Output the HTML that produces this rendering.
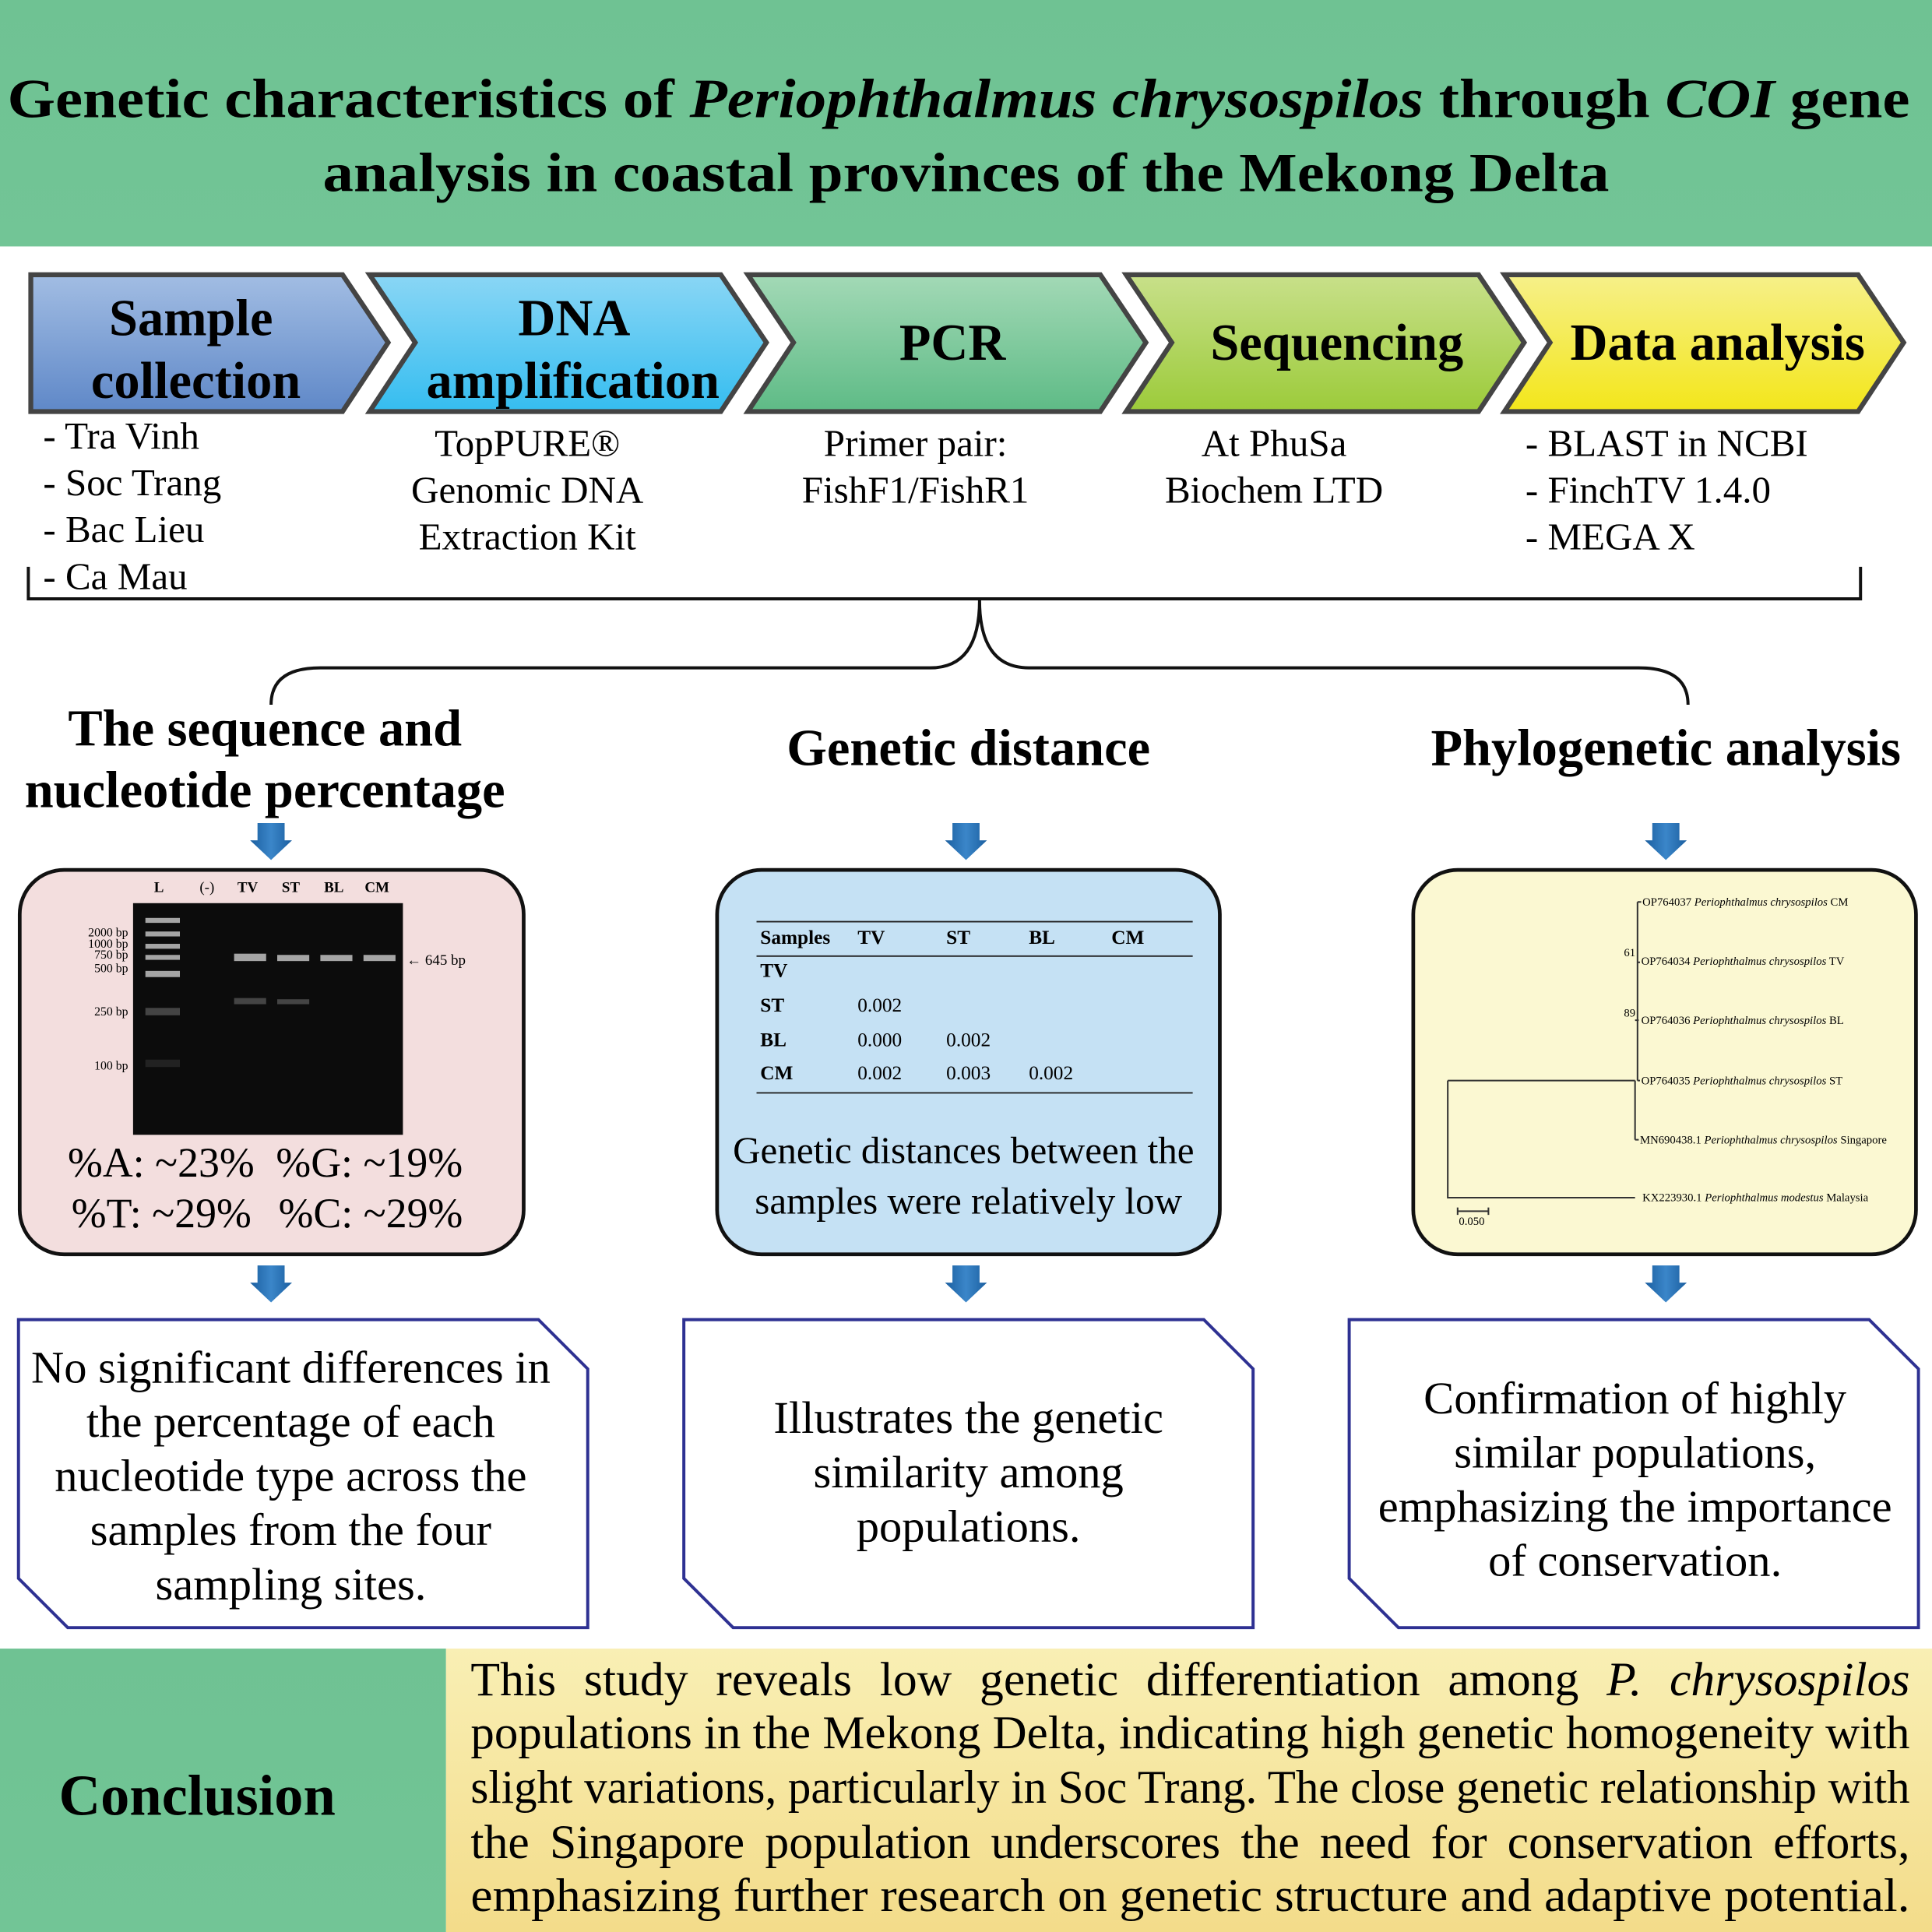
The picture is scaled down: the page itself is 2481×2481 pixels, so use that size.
<!DOCTYPE html>
<html><head><meta charset="utf-8"><style>
html,body{margin:0;padding:0;background:#fff;}
svg{display:block;}
text{font-family:"Liberation Serif",serif;}
.cl div{font-family:"Liberation Serif",serif;font-size:39px;line-height:44px;height:44px;text-align:justify;text-align-last:justify;white-space:nowrap;overflow:visible;}
</style></head><body>
<svg width="2481" height="2481" viewBox="0 0 1568 1568" xmlns="http://www.w3.org/2000/svg">
<defs>
<linearGradient id="hdr" x1="0" y1="0" x2="0" y2="1"><stop offset="0" stop-color="#6fc293"/><stop offset="1" stop-color="#72c596"/></linearGradient>
<linearGradient id="c1" x1="0" y1="0" x2="0" y2="1"><stop offset="0" stop-color="#a2bde3"/><stop offset="1" stop-color="#5f88c8"/></linearGradient>
<linearGradient id="c2" x1="0" y1="0" x2="0" y2="1"><stop offset="0" stop-color="#8ad6f5"/><stop offset="1" stop-color="#35bdf0"/></linearGradient>
<linearGradient id="c3" x1="0" y1="0" x2="0" y2="1"><stop offset="0" stop-color="#a3d9b6"/><stop offset="1" stop-color="#5ebb86"/></linearGradient>
<linearGradient id="c4" x1="0" y1="0" x2="0" y2="1"><stop offset="0" stop-color="#c8e08a"/><stop offset="1" stop-color="#9ccb3a"/></linearGradient>
<linearGradient id="c5" x1="0" y1="0" x2="0" y2="1"><stop offset="0" stop-color="#f6f08a"/><stop offset="1" stop-color="#f3e61a"/></linearGradient>
<linearGradient id="cy" x1="0" y1="0" x2="0" y2="1"><stop offset="0" stop-color="#f9efb4"/><stop offset="1" stop-color="#f3dc8a"/></linearGradient>
<linearGradient id="ar" x1="0" y1="0" x2="1" y2="0"><stop offset="0" stop-color="#1b5fa0"/><stop offset="0.5" stop-color="#3b86c9"/><stop offset="1" stop-color="#1b5fa0"/></linearGradient>
<g id="arrow"><path d="M-11,0 H11 V14 H17 L0,30 L-17,14 H-11 Z" fill="url(#ar)"/></g>
</defs>
<rect width="1568" height="1568" fill="#fff"/>
<rect x="0" y="0" width="1568" height="200" fill="url(#hdr)"/>
<text x="778" y="95" text-anchor="middle" font-size="45" font-weight="bold" textLength="1544" lengthAdjust="spacingAndGlyphs">Genetic characteristics of <tspan font-style="italic">Periophthalmus chrysospilos</tspan> through <tspan font-style="italic">COI</tspan> gene</text>
<text x="784" y="155" text-anchor="middle" font-size="45" font-weight="bold" textLength="1044" lengthAdjust="spacingAndGlyphs">analysis in coastal provinces of the Mekong Delta</text>
<g stroke="#444" stroke-width="4" stroke-linejoin="miter">
<path d="M25,223 H278 L315,278 L278,334 H25 Z" fill="url(#c1)"/>
<path d="M300,223 H585 L622,278 L585,334 H300 L337,278 Z" fill="url(#c2)"/>
<path d="M607,223 H893 L930,278 L893,334 H607 L644,278 Z" fill="url(#c3)"/>
<path d="M914,223 H1200 L1237,278 L1200,334 H914 L951,278 Z" fill="url(#c4)"/>
<path d="M1221,223 H1508 L1545,278 L1508,334 H1221 L1258,278 Z" fill="url(#c5)"/>
</g>
<g font-weight="bold" font-size="42" text-anchor="middle">
<text x="155" y="272">Sample</text><text x="159" y="323">collection</text>
<text x="466" y="272">DNA</text><text x="465" y="323">amplification</text>
<text x="773" y="292">PCR</text>
<text x="1085" y="292">Sequencing</text>
<text x="1394" y="292">Data analysis</text>
</g>
<g font-size="31">
<text x="35" y="364">- Tra Vinh</text>
<text x="35" y="402">- Soc Trang</text>
<text x="35" y="440">- Bac Lieu</text>
<text x="35" y="478">- Ca Mau</text>
<g text-anchor="middle">
<text x="428" y="370">TopPURE®</text><text x="428" y="408">Genomic DNA</text><text x="428" y="446">Extraction Kit</text>
<text x="743" y="370">Primer pair:</text><text x="743" y="408">FishF1/FishR1</text>
<text x="1034" y="370">At PhuSa</text><text x="1034" y="408">Biochem LTD</text>
</g>
<text x="1238" y="370">- BLAST in NCBI</text>
<text x="1238" y="408">- FinchTV 1.4.0</text>
<text x="1238" y="446">- MEGA X</text>
</g>
<path d="M23,460 V486 H1510 V460" fill="none" stroke="#111" stroke-width="2.5"/>
<path d="M220,572 Q220,542 260,542 H755 Q795,542 795,487 Q795,542 835,542 H1330 Q1370,542 1370,572" fill="none" stroke="#111" stroke-width="2.5"/>
<g font-weight="bold" font-size="42" text-anchor="middle">
<text x="215" y="605">The sequence and</text><text x="215" y="655">nucleotide percentage</text>
<text x="786" y="621">Genetic distance</text>
<text x="1352" y="621">Phylogenetic analysis</text>
</g>
<use href="#arrow" x="220" y="668"/><use href="#arrow" x="784" y="668"/><use href="#arrow" x="1352" y="668"/>
<use href="#arrow" x="220" y="1027"/><use href="#arrow" x="784" y="1027"/><use href="#arrow" x="1352" y="1027"/>
<rect x="16" y="706" width="409" height="312" rx="36" fill="#f3dede" stroke="#111" stroke-width="3"/>
<rect x="582" y="706" width="408" height="312" rx="36" fill="#c5e1f4" stroke="#111" stroke-width="3"/>
<rect x="1147" y="706" width="408" height="312" rx="36" fill="#fbf8d2" stroke="#111" stroke-width="3"/>
<rect x="108" y="733" width="219" height="188" fill="#0c0c0c"/>
<g fill="#ccc" opacity="0.8">
<rect x="118" y="745" width="28" height="4"/><rect x="118" y="756" width="28" height="4"/><rect x="118" y="766" width="28" height="4"/><rect x="118" y="775" width="28" height="4"/><rect x="118" y="788" width="28" height="5"/>
<rect x="190" y="774" width="26" height="6"/><rect x="225" y="775" width="26" height="5"/><rect x="260" y="775" width="26" height="5"/><rect x="295" y="775" width="26" height="5"/>
</g>
<g fill="#444"><rect x="118" y="818" width="28" height="6"/><rect x="190" y="810" width="26" height="5"/><rect x="225" y="811" width="26" height="4"/><rect x="118" y="860" width="28" height="6" fill="#222"/></g>
<g font-size="12" font-weight="bold" text-anchor="middle"><text x="129" y="724">L</text><text x="168" y="724" font-weight="normal">(-)</text><text x="201" y="724">TV</text><text x="236" y="724">ST</text><text x="271" y="724">BL</text><text x="306" y="724">CM</text></g>
<g font-size="10" text-anchor="end"><text x="104" y="760">2000 bp</text><text x="104" y="769">1000 bp</text><text x="104" y="778">750 bp</text><text x="104" y="789">500 bp</text><text x="104" y="824">250 bp</text><text x="104" y="868">100 bp</text></g>
<text x="330" y="783" font-size="12">← 645 bp</text>
<g font-size="34"><text x="55" y="955">%A: ~23%</text><text x="224" y="955">%G: ~19%</text><text x="58" y="996">%T: ~29%</text><text x="226" y="996">%C: ~29%</text></g>
<g stroke="#222" stroke-width="1.2"><line x1="614" y1="748" x2="968" y2="748"/><line x1="614" y1="776" x2="968" y2="776"/><line x1="614" y1="887" x2="968" y2="887"/></g>
<g font-size="16">
<g font-weight="bold"><text x="617" y="766">Samples</text><text x="696" y="766">TV</text><text x="768" y="766">ST</text><text x="835" y="766">BL</text><text x="902" y="766">CM</text>
<text x="617" y="793">TV</text><text x="617" y="821">ST</text><text x="617" y="849">BL</text><text x="617" y="876">CM</text></g>
<text x="696" y="821">0.002</text><text x="696" y="849">0.000</text><text x="768" y="849">0.002</text><text x="696" y="876">0.002</text><text x="768" y="876">0.003</text><text x="835" y="876">0.002</text>
</g>
<g font-size="31" text-anchor="middle"><text x="782" y="944">Genetic distances between the</text><text x="786" y="985">samples were relatively low</text></g>
<g stroke="#333" stroke-width="1.3" fill="none">
<path d="M1329,732 V877"/><path d="M1327,877 V925"/><path d="M1175,877 H1327"/><path d="M1175,877 V972 H1327"/>
<path d="M1327,925 H1330 M1329,732 H1332 M1329,781 H1331 M1327,828 H1330 M1329,877 H1331"/>
<path d="M1183,983 H1208 M1183,980 V986 M1208,980 V986"/>
</g>
<g font-size="9.3">
<text x="1333" y="735">OP764037 <tspan font-style="italic">Periophthalmus chrysospilos</tspan> CM</text>
<text x="1332" y="783">OP764034 <tspan font-style="italic">Periophthalmus chrysospilos</tspan> TV</text>
<text x="1332" y="831">OP764036 <tspan font-style="italic">Periophthalmus chrysospilos</tspan> BL</text>
<text x="1332" y="880">OP764035 <tspan font-style="italic">Periophthalmus chrysospilos</tspan> ST</text>
<text x="1331" y="928">MN690438.1 <tspan font-style="italic">Periophthalmus chrysospilos</tspan> Singapore</text>
<text x="1333" y="975">KX223930.1 <tspan font-style="italic">Periophthalmus modestus</tspan> Malaysia</text>
<text x="1318" y="776">61</text><text x="1318" y="825">89</text><text x="1184" y="994">0.050</text>
</g>
<g fill="#fff" stroke="#2e3192" stroke-width="2.5">
<path d="M15,1071 H437 L477,1111 V1321 H55 L15,1281 Z"/>
<path d="M555,1071 H977 L1017,1111 V1321 H595 L555,1281 Z"/>
<path d="M1095,1071 H1517 L1557,1111 V1321 H1135 L1095,1281 Z"/>
</g>
<g font-size="37" text-anchor="middle">
<text x="236" y="1122">No significant differences in</text><text x="236" y="1166">the percentage of each</text><text x="236" y="1210">nucleotide type across the</text><text x="236" y="1254">samples from the four</text><text x="236" y="1298">sampling sites.</text>
<text x="786" y="1163">Illustrates the genetic</text><text x="786" y="1207">similarity among</text><text x="786" y="1251">populations.</text>
<text x="1327" y="1147">Confirmation of highly</text><text x="1327" y="1191">similar populations,</text><text x="1327" y="1235">emphasizing the importance</text><text x="1327" y="1279">of conservation.</text>
</g>
<rect x="0" y="1338" width="362" height="230" fill="url(#hdr)"/>
<rect x="362" y="1338" width="1206" height="230" fill="url(#cy)"/>
<text x="160" y="1473" text-anchor="middle" font-size="47" font-weight="bold">Conclusion</text>
<foreignObject x="382" y="1342" width="1168" height="44">
<div xmlns="http://www.w3.org/1999/xhtml" class="cl"><div>This study reveals low genetic differentiation among <i>P. chrysospilos</i></div></div>
</foreignObject>
<foreignObject x="382" y="1474" width="1168" height="44">
<div xmlns="http://www.w3.org/1999/xhtml" class="cl"><div>the Singapore population underscores the need for conservation efforts,</div></div>
</foreignObject>
<g font-size="38">
<text x="382" y="1419" textLength="1168" lengthAdjust="spacingAndGlyphs">populations in the Mekong Delta, indicating high genetic homogeneity with</text>
<text x="382" y="1463" textLength="1168" lengthAdjust="spacingAndGlyphs">slight variations, particularly in Soc Trang. The close genetic relationship with</text>
<text x="382" y="1551" textLength="1168" lengthAdjust="spacingAndGlyphs">emphasizing further research on genetic structure and adaptive potential.</text>
</g>
</svg>
</body></html>
